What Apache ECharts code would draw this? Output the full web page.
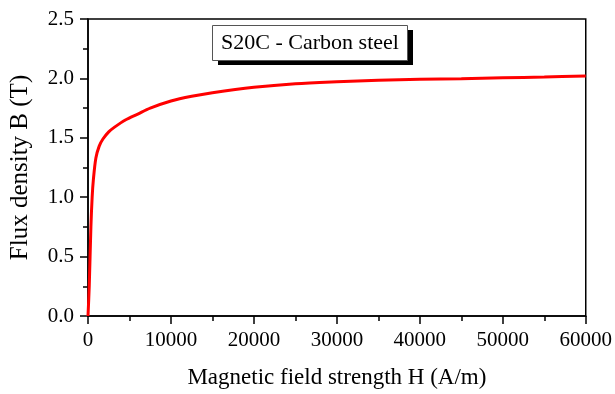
<!DOCTYPE html>
<html>
<head>
<meta charset="utf-8">
<script src="https://cdn.jsdelivr.net/npm/echarts@6/dist/echarts.min.js"></script>
<style>html,body{margin:0;padding:0;background:#fff;}#c{width:615px;height:394px;}</style>
</head>
<body>
<div id="c"></div>
<script>
const fieldH = [0, 150, 350, 500, 650, 950, 1350, 1800, 2500, 3200, 4500, 6000, 7500, 10000, 12500, 15000, 20000, 25000, 30000, 35000, 40000, 45000, 50000, 55000, 60000];
const fluxB = [0, 0.25, 0.75, 1.0, 1.15, 1.33, 1.43, 1.49, 1.55, 1.59, 1.65, 1.70, 1.75, 1.81, 1.85, 1.88, 1.925, 1.955, 1.972, 1.985, 1.992, 1.998, 2.005, 2.012, 2.02];
const xAxisName = 'Magnetic field strength H (A/m)';
const yAxisName = 'Flux density B (T)';
const annotation = 'S20C - Carbon steel';

const font = 'Liberation Serif';
const chart = echarts.init(document.getElementById('c'));
chart.setOption({
  animation: false,
  grid: {left: 87, right: 27, top: 19, bottom: 76, show: true, borderColor: '#000', borderWidth: 1.5, backgroundColor: 'transparent'},
  xAxis: {
    type: 'value', min: 0, max: 60000, interval: 10000,
    name: xAxisName, nameLocation: 'middle', nameGap: 50,
    nameTextStyle: {fontFamily: font, fontSize: 23, color: '#000'},
    axisLine: {lineStyle: {color: '#000', width: 1.5}},
    axisTick: {show: true, inside: false, length: 8, lineStyle: {color: '#000', width: 1.5}},
    minorTick: {show: true, splitNumber: 2, length: 5, lineStyle: {color: '#000', width: 1.5}},
    axisLabel: {fontFamily: font, fontSize: 21, color: '#000', margin: 14, formatter: v => String(v)},
    splitLine: {show: false}
  },
  yAxis: {
    type: 'value', min: 0, max: 2.5, interval: 0.5,
    name: yAxisName, nameLocation: 'middle', nameGap: 55,
    nameTextStyle: {fontFamily: font, fontSize: 25, color: '#000'},
    axisLine: {lineStyle: {color: '#000', width: 1.5}},
    axisTick: {show: true, inside: false, length: 8, lineStyle: {color: '#000', width: 1.5}},
    minorTick: {show: true, splitNumber: 2, length: 5, lineStyle: {color: '#000', width: 1.5}},
    axisLabel: {fontFamily: font, fontSize: 21, color: '#000', margin: 14, formatter: v => v.toFixed(1)},
    splitLine: {show: false}
  },
  series: [{
    type: 'line', smooth: 0.3, showSymbol: false,
    data: fieldH.map((h, i) => [h, fluxB[i]]),
    lineStyle: {color: '#ff0000', width: 3}
  }],
  graphic: [
    {type: 'rect', left: 218, top: 30, shape: {width: 195, height: 35}, style: {fill: '#000'}},
    {type: 'rect', left: 212, top: 25, shape: {width: 195, height: 35}, style: {fill: '#fff', stroke: '#555', lineWidth: 1}},
    {type: 'text', x: 310, y: 43, style: {text: annotation, fontFamily: font, fontSize: 22, fill: '#000', align: 'center', verticalAlign: 'middle'}}
  ]
});
</script>
</body>
</html>
